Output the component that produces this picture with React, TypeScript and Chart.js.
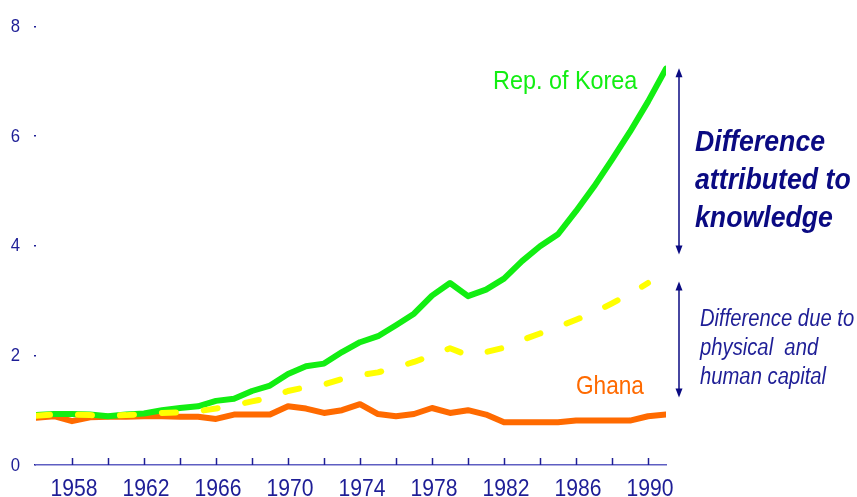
import React, { useEffect, useRef } from 'react';
import { Chart, registerables } from 'chart.js';

Chart.register(...registerables);

const years = [1956, 1957, 1958, 1959, 1960, 1961, 1962, 1963, 1964, 1965, 1966, 1967, 1968, 1969, 1970, 1971, 1972, 1973, 1974, 1975, 1976, 1977, 1978, 1979, 1980, 1981, 1982, 1983, 1984, 1985, 1986, 1987, 1988, 1989, 1990, 1991];
const korea = [0.91, 0.93, 0.93, 0.92, 0.89, 0.92, 0.94, 1.0, 1.04, 1.07, 1.17, 1.21, 1.35, 1.45, 1.66, 1.8, 1.85, 2.06, 2.24, 2.35, 2.55, 2.76, 3.09, 3.32, 3.08, 3.2, 3.4, 3.72, 3.99, 4.21, 4.63, 5.08, 5.57, 6.08, 6.63, 7.23];
const ghana = [0.86, 0.89, 0.8, 0.87, 0.88, 0.88, 0.89, 0.89, 0.88, 0.88, 0.84, 0.92, 0.92, 0.92, 1.07, 1.03, 0.95, 1.0, 1.11, 0.93, 0.89, 0.93, 1.04, 0.95, 1.0, 0.92, 0.78, 0.78, 0.78, 0.78, 0.81, 0.81, 0.81, 0.81, 0.89, 0.92];
const capital = [0.9, 0.92, 0.92, 0.91, 0.9, 0.91, 0.93, 0.95, 0.96, 0.98, 1.03, 1.09, 1.16, 1.23, 1.35, 1.42, 1.47, 1.57, 1.64, 1.69, 1.78, 1.88, 2.0, 2.13, 2.0, 2.06, 2.14, 2.28, 2.4, 2.52, 2.65, 2.78, 2.95, 3.12, 3.32];
const xLabelYears = [1958, 1962, 1966, 1970, 1974, 1978, 1982, 1986, 1990];
const xTickYears = [1958, 1960, 1962, 1964, 1966, 1968, 1970, 1972, 1974, 1976, 1978, 1980, 1982, 1984, 1986, 1988, 1990];
const yTicks = [0, 2, 4, 6, 8];

const koreaLabel = 'Rep. of Korea';
const ghanaLabel = 'Ghana';
const knowledgeLines = ['Difference', 'attributed to', 'knowledge'];
const capitalLines = ['Difference due to', 'physical  and', 'human capital'];
// arrow spans in data units
const knowledgeArrow = [7.24, 3.84];
const capitalArrow = [3.35, 1.23];

const SANS = "'Liberation Sans', Arial, sans-serif";
const SX = 0.88; // horizontal compression of the original lettering
const NAVY = '#1e1e96';
const DARKNAVY = '#0a0a82';
const AXIS = '#5e5ec2';
const GREEN = '#12ee12';
const ORANGE = '#ff6a00';
const YELLOW = '#ffff00';

function text(ctx: CanvasRenderingContext2D, s: string, x: number, y: number, sx: number) {
  ctx.save();
  ctx.translate(x, y);
  ctx.scale(sx, 1);
  ctx.fillText(s, 0, 0);
  ctx.restore();
}

const overlay = {
  id: 'overlay',
  afterDraw(chart: any) {
    const ctx = chart.ctx as CanvasRenderingContext2D;
    const xs = chart.scales.x;
    const ys = chart.scales.y;
    const bottom = xs.top;
    ctx.save();
    // x ticks pointing upward
    ctx.strokeStyle = NAVY;
    ctx.lineWidth = 1.5;
    xTickYears.forEach((yr) => {
      const px = Math.round(xs.getPixelForValue(yr)) + 0.5;
      ctx.beginPath();
      ctx.moveTo(px, bottom);
      ctx.lineTo(px, bottom - 7);
      ctx.stroke();
    });
    // x labels
    ctx.fillStyle = NAVY;
    ctx.font = `24px ${SANS}`;
    ctx.textAlign = 'center';
    ctx.textBaseline = 'alphabetic';
    xs.ticks.forEach((t: any) => {
      if (!xLabelYears.includes(t.value)) return;
      text(ctx, String(t.value), xs.getPixelForValue(t.value) + 2, 495.5, SX);
    });
    // y labels
    ctx.font = `19px ${SANS}`;
    ctx.textAlign = 'right';
    ctx.textBaseline = 'middle';
    ys.ticks.forEach((t: any) => {
      if (!yTicks.includes(t.value)) return;
      text(ctx, String(t.value), 20, ys.getPixelForValue(t.value) + 0.5, SX);
    });

    // arrows
    const ax = 679;
    const drawArrow = (v1: number, v2: number) => {
      const y1 = ys.getPixelForValue(v1);
      const y2 = ys.getPixelForValue(v2);
      ctx.strokeStyle = DARKNAVY;
      ctx.fillStyle = DARKNAVY;
      ctx.lineWidth = 1.5;
      ctx.beginPath();
      ctx.moveTo(ax, y1 + 4);
      ctx.lineTo(ax, y2 - 4);
      ctx.stroke();
      ctx.beginPath();
      ctx.moveTo(ax, y1);
      ctx.lineTo(ax - 3.5, y1 + 9);
      ctx.lineTo(ax + 3.5, y1 + 9);
      ctx.closePath();
      ctx.fill();
      ctx.beginPath();
      ctx.moveTo(ax, y2);
      ctx.lineTo(ax - 3.5, y2 - 9);
      ctx.lineTo(ax + 3.5, y2 - 9);
      ctx.closePath();
      ctx.fill();
    };
    drawArrow(knowledgeArrow[0], knowledgeArrow[1]);
    drawArrow(capitalArrow[0], capitalArrow[1]);

    ctx.textBaseline = 'alphabetic';
    ctx.textAlign = 'left';
    // series labels
    ctx.fillStyle = GREEN;
    ctx.font = `26px ${SANS}`;
    text(ctx, koreaLabel, 493, 89, 0.9);
    ctx.fillStyle = ORANGE;
    ctx.font = `26px ${SANS}`;
    text(ctx, ghanaLabel, 576, 394, 0.87);

    // knowledge annotation
    ctx.fillStyle = DARKNAVY;
    ctx.font = `italic bold 30px ${SANS}`;
    knowledgeLines.forEach((t, i) => text(ctx, t, 695, 151 + i * 38, 0.89));
    // capital annotation
    ctx.fillStyle = NAVY;
    ctx.font = `italic 23px ${SANS}`;
    capitalLines.forEach((t, i) => text(ctx, t, 700, 326 + i * 29, SX));
    ctx.restore();
  },
};

export default function App() {
  const ref = useRef<HTMLCanvasElement | null>(null);
  useEffect(() => {
    if (!ref.current) return;
    const mk = (vals: number[]) => vals.map((v, i) => ({ x: years[i], y: v }));
    const chart = new Chart(ref.current, {
      type: 'line',
      data: {
        datasets: [
          {
            label: 'capital',
            data: mk(capital),
            borderColor: YELLOW,
            borderWidth: 6,
            borderDash: [14, 28],
            borderCapStyle: 'round',
            borderJoinStyle: 'round',
            pointRadius: 0,
            tension: 0,
            order: 0,
          },
          {
            label: koreaLabel,
            data: mk(korea),
            borderColor: GREEN,
            borderWidth: 6,
            borderCapStyle: 'round',
            borderJoinStyle: 'round',
            pointRadius: 0,
            tension: 0,
            order: 1,
          },
          {
            label: ghanaLabel,
            data: mk(ghana),
            borderColor: ORANGE,
            borderWidth: 6,
            borderCapStyle: 'round',
            borderJoinStyle: 'round',
            pointRadius: 0,
            tension: 0,
            order: 2,
          },
        ],
      },
      options: {
        animation: false,
        responsive: false,
        maintainAspectRatio: false,
        layout: { padding: { top: 26.5, right: 191, left: 0, bottom: 0 } },
        plugins: { legend: { display: false }, tooltip: { enabled: false } },
        scales: {
          x: {
            type: 'linear',
            min: 1956,
            max: 1991,
            afterFit: (s: any) => { s.height = 32; },
            border: { display: true, color: AXIS, width: 1.5 },
            grid: { display: false },
            ticks: {
              display: false,
              stepSize: 2,
              includeBounds: false,
              autoSkip: false,
              maxRotation: 0,
            },
          },
          y: {
            min: 0,
            max: 8,
            afterFit: (s: any) => { s.width = 36; },
            border: { display: false },
            grid: { display: true, drawOnChartArea: false, drawTicks: true, tickLength: 2, color: NAVY, lineWidth: 1.5 },
            ticks: {
              display: false,
              stepSize: 2,
            },
          },
        },
      },
      plugins: [overlay],
    });
    return () => chart.destroy();
  }, []);
  return (
    <div style={{ position: 'absolute', left: 0, top: 0, width: 857, height: 497, background: '#fff' }}>
      <canvas ref={ref} width={857} height={497} style={{ display: 'block' }} />
    </div>
  );
}
